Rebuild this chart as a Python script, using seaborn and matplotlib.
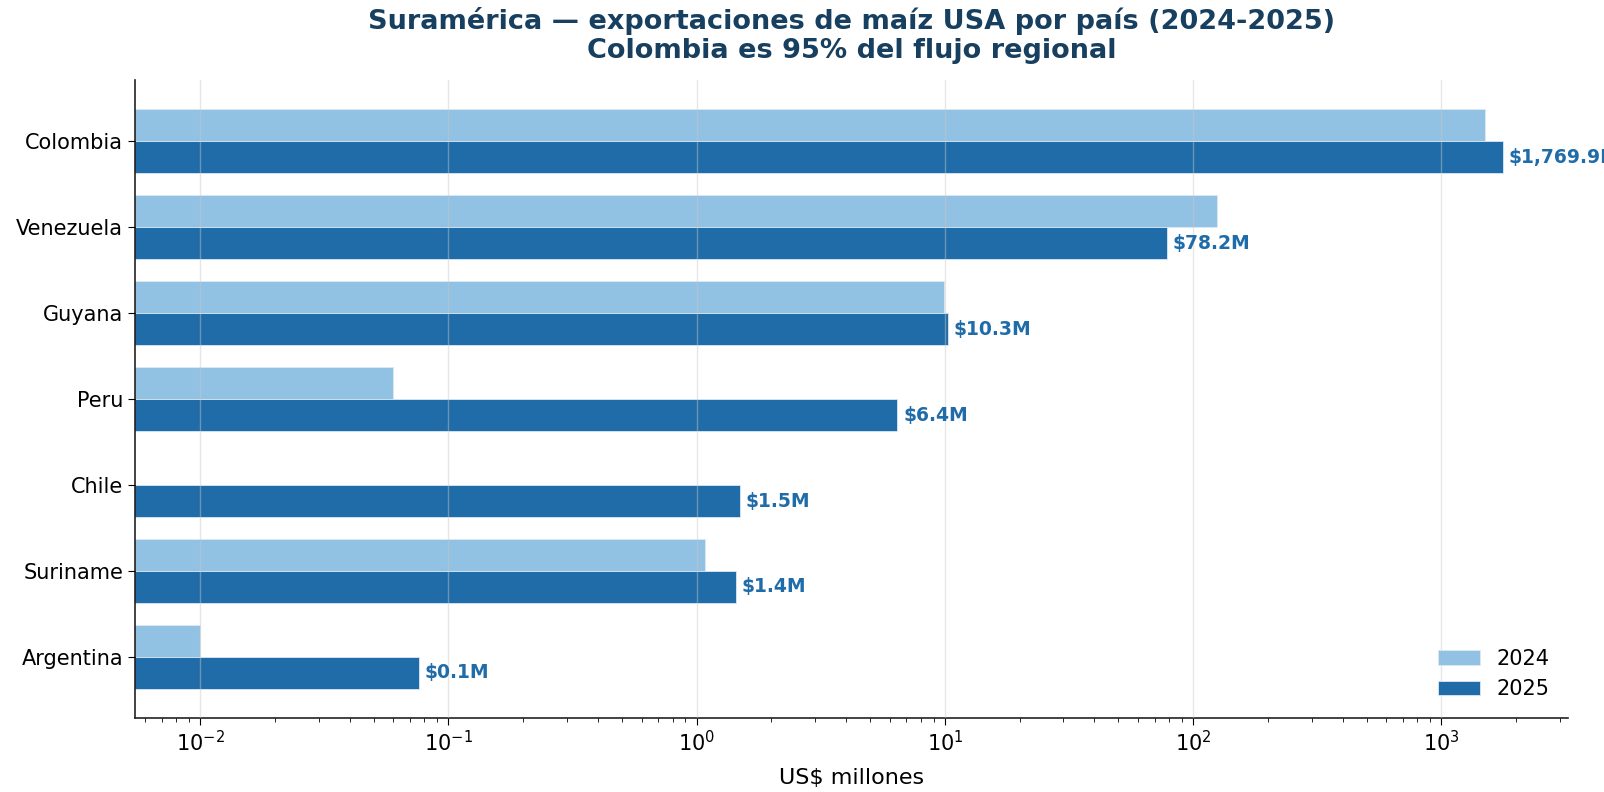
import numpy as np
import pandas as pd
import matplotlib
matplotlib.use("Agg")
import matplotlib.pyplot as plt
import seaborn as sns

# US corn exports to South America, US$ millions
paises = ["Colombia", "Venezuela", "Guyana", "Peru", "Chile", "Suriname", "Argentina"]
valores_2024 = [1505.0, 124.5, 9.9, 0.060, 0.0, 1.08, 0.010]
valores_2025 = [1769.9, 78.2, 10.3, 6.44, 1.49, 1.44, 0.0764]
anios = ["2024", "2025"]

color_claro = "#92c2e3"
color_oscuro = "#1f6ca9"
color_titulo = "#173f5f"

sns.set_style("ticks")
plt.rcParams["font.family"] = ["DejaVu Sans"]
plt.rcParams["text.color"] = "black"
plt.rcParams["axes.labelcolor"] = "black"
plt.rcParams["xtick.color"] = "black"
plt.rcParams["ytick.color"] = "black"

df = pd.DataFrame({
    "País": paises * 2,
    "Año": [anios[0]] * len(paises) + [anios[1]] * len(paises),
    "Valor": valores_2024 + valores_2025,
})

fig = plt.figure(figsize=(16.04, 7.92), dpi=100)
ax = fig.add_axes([0.0842, 0.0934, 0.8934, 0.8056])

sns.barplot(
    data=df, y="País", x="Valor", hue="Año", orient="h",
    palette=[color_claro, color_oscuro], width=0.75, saturation=1,
    edgecolor="#dbe9f5", linewidth=0.6, ax=ax,
)
ax.set_xscale("log")

# log-axis limits with 5% padding around the positive data range
positivos = [v for v in valores_2024 + valores_2025 if v > 0]
lo, hi = np.log10(min(positivos)), np.log10(max(positivos))
pad = 0.05 * (hi - lo)
ax.set_xlim(10 ** (lo - pad), 10 ** (hi + pad))
half = 0.75 / 2
ypad = 0.05 * (len(paises) - 1 + 2 * half)
ax.set_ylim(len(paises) - 1 + half + ypad, -half - ypad)

etiquetas = [f"${v:,.1f}M" for v in valores_2025]
ax.bar_label(ax.containers[1], labels=etiquetas, padding=4,
             fontsize=13.5, fontweight="bold", color=color_oscuro)

ax.set_axisbelow(False)
ax.grid(axis="x", which="major", color="#c8c8c8", alpha=0.45, linewidth=1.0)
ax.grid(axis="y", visible=False)
sns.despine(ax=ax)
for s in ("left", "bottom"):
    ax.spines[s].set_color("#222222")
    ax.spines[s].set_linewidth(1.2)

ax.tick_params(axis="y", which="major", left=True, length=5, labelsize=15)
ax.tick_params(axis="x", which="major", bottom=True, length=5, labelsize=15)
ax.tick_params(axis="x", which="minor", bottom=True, length=3)

ax.set_ylabel("")
ax.set_xlabel("US$ millones", fontsize=16, labelpad=9)

ax.set_title("Suramérica — exportaciones de maíz USA por país (2024-2025)\n"
             "Colombia es 95% del flujo regional",
             fontsize=19.5, fontweight="bold", color=color_titulo, pad=16,
             linespacing=1.15)

leg = ax.legend(loc="lower right", frameon=False, fontsize=15, title=None)

fig.savefig("out.png", dpi=100)
